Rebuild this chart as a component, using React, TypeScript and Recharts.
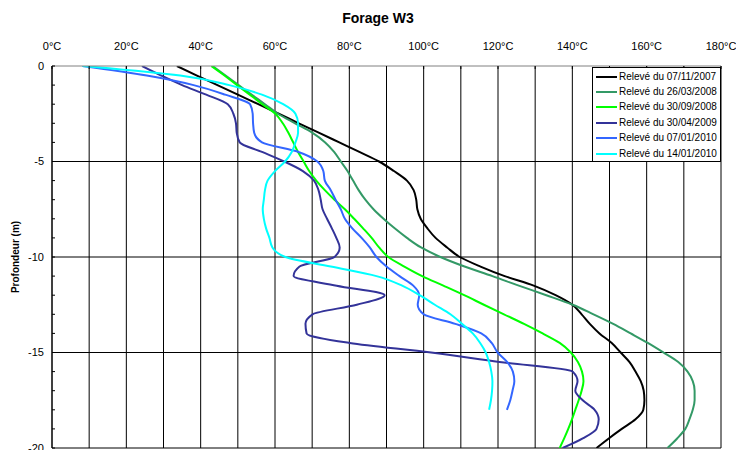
import { CartesianGrid, Legend, Line, LineChart, XAxis, YAxis } from 'recharts';

// depth (m), every 0.5 m
const depths = [
  0, -0.5, -1, -1.5, -2, -2.5, -3, -3.5, -4, -4.5, -5, -5.5, -6, -6.5, -7, -7.5, -8, -8.5, -9, -9.5,
  -10, -10.5, -11, -11.5, -12, -12.5, -13, -13.5, -14, -14.5, -15, -15.5, -16, -16.5, -17, -17.5, -18,
  -18.5, -19, -19.5, -20,
];

// temperatures (°C)
const t20071107 = [
  33.6, 39, 44.5, 50, 55.5, 61, 66.4, 71.9, 77.3, 82.7, 88, 92, 95.5, 97.3, 98, 98.3, 99.2, 101, 103.2, 106.3,
  109.7, 115.3, 121.8, 129.6, 135.5, 140, 142.5, 144.7, 147.3, 150.6, 153, 155.4, 157, 158.4, 159.2, 159.4, 159.1,
  157, 153.3, 149.8, 146.5,
];
const t20080326 = [
  43.2, 46.7, 50.2, 53.7, 57.3, 60.8, 65.4, 70.1, 73.5, 75.9, 77.7, 79.5, 81, 82.5, 84.3, 86.5, 89.2, 92.2, 95.5, 99.3,
  104.5, 111, 118.5, 125.6, 133, 140.1, 145.7, 151, 155.7, 160.3, 164.5, 168.5, 171, 172.4, 172.9, 172.9, 172.4,
  171.5, 170.4, 168.2, 165.6,
];
const t20080930 = [
  42.9, 46.4, 49.8, 53.2, 56.6, 60.1, 62.1, 63.6, 64.9, 66.2, 67.7, 69.2, 71.1, 73.4, 76, 78.8, 81.3, 83.7, 86, 88,
  90.5, 94.8, 99.6, 105.3, 110.9, 116.2, 121.6, 127, 132, 136.6, 139.6, 141.5, 142.6, 143, 142.5, 141.7, 140.8,
  139.9, 138.9, 137.8, 136.6,
];
const t20090430 = [
  24.2, 29.4, 35, 41.5, 47.3, 48.8, 49.5, 49.7, 50.5, 56.5, 62.5, 67.5, 70.5, 71.7, 72.3, 72.8, 74, 75.3, 76.5, 77.4,
  76, 66.6, 65, 76.6, 89.5, 82, 70.1, 68.2, 68.5, 80.1, 102, 120.4, 140.1, 141.4, 140.8, 142.8, 146, 147.1, 146.5,
  142.8, 137.4,
];
const t20100107 = [
  8.2, 25.5, 38.1, 46.6, 53.3, 54, 54.1, 54.4, 56.5, 66.3, 71.4, 73, 73.4, 75, 76.3, 77.7, 78.8, 80.8, 83.3, 85.5,
  87.3, 90, 93.5, 97.2, 98.8, 98.4, 100, 108.5, 115.5, 118.3, 119.9, 122.5, 124, 124.4, 123.9, 123.3, 122.4,
];
const t20100114 = [
  8.2, 34.5, 47.7, 56.5, 62.2, 65.5, 66.2, 66.2, 65.5, 64.5, 62.7, 60, 58, 57.3, 57, 56.7, 57, 57.6, 58.5, 59.3,
  62.8, 75, 87.3, 94.2, 98.9, 103, 107.2, 110.3, 113.2, 115.2, 116.7, 117.6, 118.2, 118.5, 118.4, 118.1, 117.6,
];

const series = [
  { key: 's1', name: 'Relevé du 07/11/2007', color: '#000000', values: t20071107 },
  { key: 's2', name: 'Relevé du 26/03/2008', color: '#339966', values: t20080326 },
  { key: 's3', name: 'Relevé du 30/09/2008', color: '#00ff00', values: t20080930 },
  { key: 's4', name: 'Relevé du 30/04/2009', color: '#333399', values: t20090430 },
  { key: 's5', name: 'Relevé du 07/01/2010', color: '#3366ff', values: t20100107 },
  { key: 's6', name: 'Relevé du 14/01/2010', color: '#00ffff', values: t20100114 },
];

const tempTicks = [0, 10, 20, 30, 40, 50, 60, 70, 80, 90, 100, 110, 120, 130, 140, 150, 160, 170, 180];
const depthTicks = [0, -1, -2, -3, -4, -5, -6, -7, -8, -9, -10, -11, -12, -13, -14, -15, -16, -17, -18, -19, -20];
const depthGrid = [-5, -10, -15, -20];

const rows = depths.map((depth, i) => {
  const row: Record<string, number | undefined> = { depth };
  series.forEach((s) => {
    row[s.key] = s.values[i];
  });
  return row;
});

const FONT = '"Liberation Sans", Arial, sans-serif';

function TopTick(props: any) {
  const { x, y, payload } = props;
  const v = payload.value;
  return (
    <g>
      <line x1={x} x2={x} y1={y} y2={y + 3} stroke="#000" />
      {v % 20 === 0 && (
        <text x={x} y={y - 16} textAnchor="middle" fontSize={11} fill="#000" fontFamily={FONT}>
          {`${v}°C`}
        </text>
      )}
    </g>
  );
}

function LeftTick(props: any) {
  const { x, y, payload } = props;
  const v = payload.value;
  return (
    <g>
      <line x1={x} x2={x + 3} y1={y} y2={y} stroke="#000" />
      {v % 5 === 0 && (
        <text x={x - 8} y={y} dy="0.35em" textAnchor="end" fontSize={11} fill="#000" fontFamily={FONT}>
          {v}
        </text>
      )}
    </g>
  );
}

function LegendBox() {
  return (
    <div
      style={{
        border: '1px solid #000',
        background: '#fff',
        width: 124,
        padding: '1px 0 0 3px',
        fontFamily: FONT,
      }}
    >
      {series.map((s) => (
        <div key={s.key} style={{ display: 'flex', alignItems: 'center', height: 15.4 }}>
          <span style={{ display: 'inline-block', width: 21, height: 2, background: s.color, marginRight: 2 }} />
          <span style={{ fontSize: 10, lineHeight: '12px', whiteSpace: 'nowrap', color: '#000' }}>{s.name}</span>
        </div>
      ))}
    </div>
  );
}

export default function App() {
  return (
    <div
      style={{
        position: 'absolute',
        left: 0,
        top: 0,
        width: 736,
        height: 450,
        overflow: 'hidden',
        background: '#fff',
        fontFamily: FONT,
      }}
    >
      <div
        style={{
          position: 'absolute',
          left: 0,
          width: 756,
          top: 10,
          textAlign: 'center',
          fontSize: 14,
          fontWeight: 'bold',
          zIndex: 2,
        }}
      >
        Forage W3
      </div>
      <LineChart
        layout="vertical"
        width={736}
        height={460}
        data={rows}
        margin={{ top: 0, right: 15, bottom: 12, left: 0 }}
      >
        <CartesianGrid stroke="#000" horizontalValues={depthGrid} />
        <XAxis
          type="number"
          orientation="top"
          domain={[0, 180]}
          ticks={tempTicks}
          interval={0}
          height={66}
          tickSize={0}
          tickMargin={0}
          tickLine={false}
          axisLine={{ stroke: '#808080' }}
          tick={TopTick}
          allowDataOverflow
        />
        <YAxis
          type="number"
          dataKey="depth"
          domain={[-20, 0]}
          ticks={depthTicks}
          interval={0}
          width={52}
          reversed
          tickSize={0}
          tickMargin={0}
          tickLine={false}
          axisLine={{ stroke: '#000' }}
          tick={LeftTick}
          allowDataOverflow
          label={{
            value: 'Profondeur (m)',
            angle: -90,
            position: 'insideLeft',
            offset: 15,
            style: { textAnchor: 'middle', fontSize: 10, fontWeight: 'bold', fill: '#000', fontFamily: FONT },
          }}
        />
        <Legend
          layout="horizontal"
          align="center"
          verticalAlign="middle"
          content={LegendBox}
          wrapperStyle={{ left: 592, top: 67, width: 'auto', height: 'auto' }}
        />
        {series.map((s) => (
          <Line
            key={s.key}
            dataKey={s.key}
            name={s.name}
            type="monotone"
            stroke={s.color}
            strokeWidth={2}
            dot={false}
            activeDot={false}
            isAnimationActive={false}
          />
        ))}
      </LineChart>
    </div>
  );
}
